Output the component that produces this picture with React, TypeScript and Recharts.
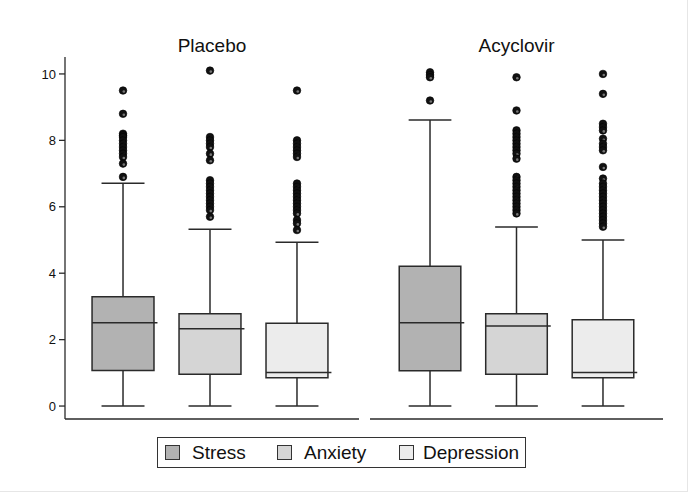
import React from "react";
import { ComposedChart, XAxis, YAxis, ReferenceArea, ReferenceLine, Scatter } from "recharts";

const groups = ["Placebo", "Acyclovir"];
const measures = ["Stress", "Anxiety", "Depression"];
const fills = ["#b2b2b2", "#d5d5d5", "#ececec"];
const yTicks = [0, 2, 4, 6, 8, 10];

const placeboLow = [0, 0, 0];
const placeboQ1 = [1.07, 0.96, 0.85];
const placeboMedian = [2.51, 2.33, 1.01];
const placeboQ3 = [3.29, 2.78, 2.49];
const placeboHigh = [6.71, 5.32, 4.93];

const acyclovirLow = [0, 0, 0];
const acyclovirQ1 = [1.06, 0.96, 0.85];
const acyclovirMedian = [2.51, 2.41, 1.01];
const acyclovirQ3 = [4.21, 2.78, 2.6];
const acyclovirHigh = [8.61, 5.39, 5.0];

const placeboStressOut = [9.5, 8.8, 8.2, 8.15, 8.1, 8.0, 7.9, 7.8, 7.7, 7.6, 7.5, 7.3, 6.9];
const placeboAnxietyOut = [10.1, 8.1, 8.0, 7.9, 7.8, 7.6, 7.4, 6.8, 6.7, 6.6, 6.5, 6.4, 6.3, 6.2, 6.1, 6.0, 5.9, 5.7];
const placeboDepressionOut = [9.5, 8.0, 7.9, 7.8, 7.7, 7.6, 7.5, 6.7, 6.6, 6.5, 6.4, 6.3, 6.2, 6.1, 6.0, 5.9, 5.8, 5.6, 5.5, 5.3];
const acyclovirStressOut = [10.05, 9.97, 9.9, 9.2];
const acyclovirAnxietyOut = [9.9, 8.9, 8.3, 8.2, 8.1, 8.0, 7.9, 7.8, 7.7, 7.6, 7.45, 6.9, 6.8, 6.7, 6.6, 6.5, 6.4, 6.3, 6.2, 6.1, 6.0, 5.9, 5.8];
const acyclovirDepressionOut = [10.0, 9.4, 8.5, 8.4, 8.3, 8.05, 7.9, 7.8, 7.7, 7.2, 6.85, 6.7, 6.6, 6.5, 6.4, 6.3, 6.2, 6.1, 6.0, 5.9, 5.8, 5.7, 5.6, 5.5, 5.4];

const FONT = '"Liberation Sans", Arial, Helvetica, sans-serif';
const STROKE = "#2a2a2a";
const BOX_HALF = 0.356;
const CAP_HALF = 0.247;
const Y_DOMAIN: [number, number] = [-0.39, 10.51];

type PanelProps = {
  low: number[];
  q1: number[];
  median: number[];
  q3: number[];
  high: number[];
  outliers: number[][];
  xDomain: [number, number];
  showY: boolean;
  width: number;
  margin: { top: number; right: number; bottom: number; left: number };
};

const Dot = (props: any) => (
  <g>
    <circle cx={props.cx} cy={props.cy} r={3.8} fill="#111" stroke="#000" strokeWidth={0.6} />
    <circle cx={props.cx + 0.8} cy={props.cy + 1} r={1.3} fill="#777" />
  </g>
);

function Panel({ low, q1, median, q3, high, outliers, xDomain, showY, width, margin }: PanelProps) {
  const scatterData = outliers.flatMap((arr, i) => arr.map((v) => ({ x: i + 1, y: v })));
  return (
    <ComposedChart width={width} height={503} margin={margin}>
      <XAxis
        type="number"
        dataKey="x"
        domain={xDomain}
        allowDataOverflow
        tick={false}
        tickLine={false}
        axisLine={{ stroke: STROKE, strokeWidth: 1.3 }}
        height={1}
      />
      <YAxis
        type="number"
        dataKey="y"
        domain={Y_DOMAIN}
        allowDataOverflow
        ticks={yTicks}
        hide={!showY}
        width={65}
        tickSize={6}
        tickMargin={3}
        axisLine={{ stroke: STROKE, strokeWidth: 1.3 }}
        tickLine={{ stroke: STROKE, strokeWidth: 1.3 }}
        tick={{ fill: "#111", fontSize: 13, fontFamily: FONT }}
      />
      {measures.map((m, i) => {
        const c = i + 1;
        return (
          <React.Fragment key={m}>
            <ReferenceLine segment={[{ x: c, y: q3[i] }, { x: c, y: high[i] }]} stroke={STROKE} strokeWidth={1.5} />
            <ReferenceLine segment={[{ x: c, y: low[i] }, { x: c, y: q1[i] }]} stroke={STROKE} strokeWidth={1.5} />
            <ReferenceLine segment={[{ x: c - CAP_HALF, y: high[i] }, { x: c + CAP_HALF, y: high[i] }]} stroke={STROKE} strokeWidth={1.5} />
            <ReferenceLine segment={[{ x: c - CAP_HALF, y: low[i] }, { x: c + CAP_HALF, y: low[i] }]} stroke={STROKE} strokeWidth={1.5} />
            <ReferenceArea
              x1={c - BOX_HALF}
              x2={c + BOX_HALF}
              y1={q1[i]}
              y2={q3[i]}
              fill={fills[i]}
              fillOpacity={1}
              stroke={STROKE}
              strokeWidth={1.5}
            />
          </React.Fragment>
        );
      })}
      {measures.map((m, i) => (
        <ReferenceLine
          key={"med" + m}
          segment={[{ x: i + 1 - BOX_HALF, y: median[i] }, { x: i + 1 + BOX_HALF + 0.04, y: median[i] }]}
          stroke={STROKE}
          strokeWidth={1.5}
        />
      ))}
      <Scatter data={scatterData} dataKey="y" isAnimationActive={false} shape={Dot} />
    </ComposedChart>
  );
}

export default function App() {
  const legendX = [165, 277, 399];
  const legendTextX = [192, 304, 423];
  return (
    <div style={{ position: "absolute", left: 0, top: 0, width: 697, height: 503, background: "#fff", fontFamily: FONT }}>
      <div style={{ position: "absolute", left: 0, top: 0, width: 687, height: 491, borderRight: "1px solid #e6e6e6", borderBottom: "1px solid #e6e6e6" }} />
      <div style={{ position: "absolute", left: 0, top: 0 }}>
        <Panel
          low={placeboLow}
          q1={placeboQ1}
          median={placeboMedian}
          q3={placeboQ3}
          high={placeboHigh}
          outliers={[placeboStressOut, placeboAnxietyOut, placeboDepressionOut]}
          xDomain={[0.333, 3.713]}
          showY={true}
          width={365}
          margin={{ top: 57, right: 6, bottom: 83, left: 0 }}
        />
      </div>
      <div style={{ position: "absolute", left: 365, top: 0 }}>
        <Panel
          low={acyclovirLow}
          q1={acyclovirQ1}
          median={acyclovirMedian}
          q3={acyclovirQ3}
          high={acyclovirHigh}
          outliers={[acyclovirStressOut, acyclovirAnxietyOut, acyclovirDepressionOut]}
          xDomain={[0.306, 3.694]}
          showY={false}
          width={332}
          margin={{ top: 57, right: 34, bottom: 83, left: 5 }}
        />
      </div>
      <div style={{ position: "absolute", left: 65, width: 294, top: 35, textAlign: "center", fontSize: 19, lineHeight: "22px", color: "#111" }}>{groups[0]}</div>
      <div style={{ position: "absolute", left: 370, width: 293, top: 35, textAlign: "center", fontSize: 19, lineHeight: "22px", color: "#111" }}>{groups[1]}</div>
      <div style={{ position: "absolute", left: 157, top: 437, width: 369, height: 31, border: "1px solid #333", boxSizing: "border-box" }} />
      {measures.map((m, i) => (
        <React.Fragment key={m}>
          <div style={{ position: "absolute", left: legendX[i], top: 445, width: 15, height: 15, background: fills[i], border: "1px solid #333", boxSizing: "border-box" }} />
          <div style={{ position: "absolute", left: legendTextX[i], top: 443, fontSize: 19, color: "#111", lineHeight: "20px" }}>{m}</div>
        </React.Fragment>
      ))}
    </div>
  );
}
